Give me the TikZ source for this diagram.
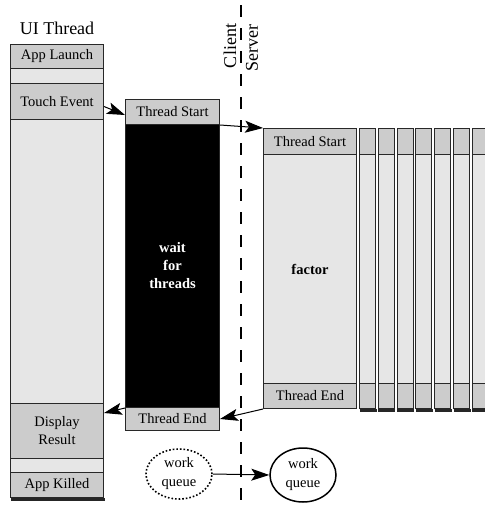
\documentclass[tikz,border=0pt]{standalone}
\usepackage{fontspec}
\setmainfont{Liberation Serif}
\usetikzlibrary{arrows.meta,shapes.geometric}
\definecolor{hdr}{RGB}{204,204,204}
\definecolor{bdy}{RGB}{230,230,230}
\definecolor{edge}{RGB}{40,40,40}
\tikzset{
  cell/.style={draw=edge, line width=1pt, inner sep=0pt, anchor=north west, align=center,
    node font=\fontsize{14.5}{18}\selectfont},
  hd/.style={cell, fill=hdr},
  bd/.style={cell, fill=bdy},
  arr/.style={-{Stealth[length=18pt,width=12pt,inset=4pt]}, line width=1pt, black},
  shadowline/.style={line width=2.2pt, black!85},
  lbl/.style={inner sep=0pt, node font=\fontsize{18}{20}\selectfont},
  queue/.style={ellipse, inner sep=0pt, align=center, node font=\fontsize{14.5}{19}\selectfont}
}
\begin{document}
\begin{tikzpicture}[x=1pt,y=-1pt]
\clip (0,0) rectangle (485,507);
\fill[white] (0,0) rectangle (485,507);

% UI thread column
\node[lbl] (uilbl) at (57,28) {UI Thread};
\node[hd, minimum width=93pt, minimum height=24pt] (al) at (10,44) {App Launch};
\node[bd, minimum width=93pt, minimum height=15pt] (s1) at (10,68) {};
\node[hd, minimum width=93pt, minimum height=36pt] (touch) at (10,83) {Touch Event};
\node[bd, minimum width=93pt, minimum height=284pt] (b1) at (10,119) {};
\node[hd, minimum width=93pt, minimum height=55pt] (disp) at (10,403) {Display\\Result};
\node[bd, minimum width=93pt, minimum height=14pt] (s2) at (10,458) {};
\node[hd, minimum width=93pt, minimum height=25pt] (ak) at (10,472) {App Killed};
\draw[shadowline] ([xshift=1pt,yshift=-1.5pt]ak.south west) -- ([xshift=1pt,yshift=-1.5pt]ak.south east);

% client waiting thread
\node[hd, minimum width=94pt, minimum height=25pt] (ts1) at (125,99) {Thread Start};
\node[cell, fill=black, text=white, font=\bfseries, minimum width=94pt, minimum height=283pt] (wt) at (125,124) {wait\\for\\threads};
\node[hd, minimum width=94pt, minimum height=23pt] (te1) at (125,407) {Thread End};

% client/server divider
\coordinate (dtop) at (241,5);
\coordinate (dbot) at (241,510);
\draw[line width=2.6pt, dash pattern=on 12pt off 11pt] (dtop) -- (dbot);
\node[lbl, rotate=90] (client) at (230,46) {Client};
\node[lbl, rotate=90] (server) at (252,48) {Server};

% server thread
\node[hd, minimum width=93pt, minimum height=26pt] (ts2) at (263,128) {Thread Start};
\node[bd, font=\bfseries, minimum width=93pt, minimum height=229pt] (fac) at (263,154) {factor};
\node[hd, minimum width=93pt, minimum height=25pt] (te2) at (263,383) {Thread End};

% additional server threads
\foreach \i in {0,...,6}{
  \pgfmathsetmacro{\xx}{359+18.8*\i}
  \node[hd, minimum width=16pt, minimum height=26pt] (nh\i) at (\xx,128) {};
  \node[bd, minimum width=16pt, minimum height=229pt] (nb\i) at (\xx,154) {};
  \node[hd, minimum width=16pt, minimum height=25pt] (nf\i) at (\xx,383) {};
  \draw[shadowline] ([xshift=0.5pt,yshift=-1.5pt]nf\i.south west) -- ([xshift=0.5pt,yshift=-1.5pt]nf\i.south east);
}

% work queues
\node[queue, draw, dotted, line width=1.6pt, minimum width=66pt, minimum height=50pt] (wq1) at (179,474) {work\\queue};
\node[queue, draw, line width=1.5pt, minimum width=66pt, minimum height=54pt] (wq2) at (303,475) {work\\queue};

% connectors
\draw[arr] ([yshift=-5pt]touch.east) -- ([yshift=-3pt]ts1.west);
\draw[arr] (ts1.south east) -- (ts2.north west);
\draw[arr] (te2.south west) -- (te1.east);
\draw[arr] (wt.south west) -- ([yshift=-10pt]disp.north east);
\draw[arr] (wq1.east) -- (wq2.west);
\end{tikzpicture}
\end{document}
